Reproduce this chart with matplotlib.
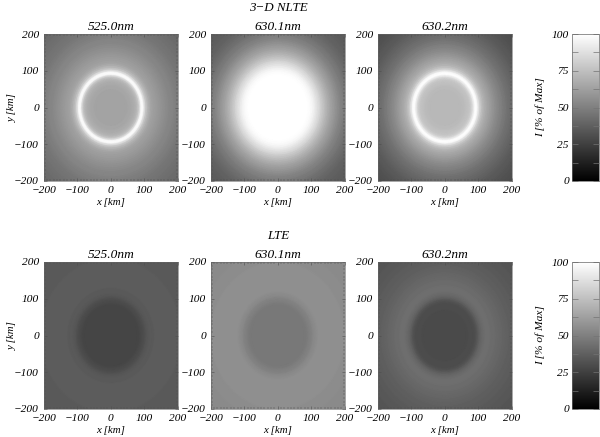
import matplotlib
matplotlib.use('Agg')
import matplotlib.pyplot as plt
import numpy as np

plt.rcParams['font.family'] = ['Liberation Serif', 'DejaVu Serif']
plt.rcParams['font.style'] = 'italic'

lines = ['525.0nm', '630.1nm', '630.2nm']
tick_values = [-200, -100, 0, 100, 200]
bar_ticks = [0, 25, 50, 75, 100]

# intensity in % of max, read along the radius, one value every 5 km (0 to 285 km)
nlte_525 = [64, 64, 64, 64, 64, 64, 64, 64, 64, 64, 65, 65, 66, 67, 68, 70, 74, 82, 97, 100,
            88, 78, 72, 68, 65, 63, 62, 61, 60, 59, 58, 57, 56, 55, 54, 53, 52, 52, 51, 50,
            49, 49, 48, 47, 46, 46, 45, 45, 44, 44, 43, 43, 42, 42, 42, 41, 41, 41]
nlte_6301 = [100, 100, 100, 100, 100, 100, 100, 100, 100, 100, 100, 100, 100, 100, 100, 100, 100, 100, 100, 99,
             98, 96, 93, 90, 87, 84, 80, 77, 74, 71, 68, 66, 63, 61, 59, 57, 55, 53, 51, 50,
             48, 47, 46, 44, 43, 42, 41, 40, 39, 38, 38, 37, 37, 36, 36, 36, 36, 36]
nlte_6302 = [72, 72, 72, 72, 72, 72, 72, 72, 72, 72, 73, 73, 74, 75, 76, 78, 82, 90, 99, 100,
             90, 81, 75, 71, 68, 66, 64, 62, 60, 58, 56, 54, 53, 51, 50, 48, 47, 45, 44, 43,
             42, 41, 40, 39, 38, 37, 36, 35, 35, 34, 33, 33, 32, 32, 31, 31, 30, 30]
lte_525 = [27, 27, 27, 27, 27, 27, 27, 27, 27, 27, 27, 27, 27, 27, 27, 27, 27, 28, 29, 30,
           31, 33, 34, 35, 35, 35, 36, 36, 36, 36, 36, 36, 36, 36, 36, 36, 36, 36, 36, 36,
           36, 36, 36, 35, 35, 35, 35, 35, 35, 35, 35, 35, 35, 35, 35, 35, 35, 35]
lte_6301 = [47, 47, 47, 47, 47, 47, 47, 47, 47, 47, 47, 47, 47, 47, 47, 47, 47, 48, 49, 50,
            51, 53, 54, 55, 56, 56, 56, 56, 56, 56, 56, 56, 56, 56, 56, 56, 56, 56, 56, 56,
            56, 55, 55, 55, 55, 55, 55, 55, 54, 54, 54, 54, 54, 54, 54, 54, 54, 54]
lte_6302 = [29, 29, 29, 29, 29, 29, 29, 29, 29, 29, 29, 29, 29, 29, 30, 30, 30, 30, 31, 33,
            36, 39, 41, 42, 43, 43, 43, 43, 42, 42, 42, 41, 41, 40, 40, 39, 39, 38, 38, 37,
            37, 37, 36, 36, 36, 35, 35, 35, 34, 34, 34, 34, 33, 33, 33, 33, 33, 33]

rows = [('3\u2212D NLTE', [nlte_525, nlte_6301, nlte_6302], 34, 181, 8),
        ('LTE', [lte_525, lte_6301, lte_6302], 262, 409, 236)]
lefts = [43.7, 210.7, 377.7]
W, H = 600.0, 437.0


def make_ax(x0, x1, top, bottom):
    return fig.add_axes([x0 / W, 1 - bottom / H, (x1 - x0) / W, (bottom - top) / H])


fig = plt.figure(figsize=(6, 4.37), dpi=100)

# polar mesh, the profile is the colour along each spoke
radii = np.arange(58) * 5.0
theta = np.linspace(0, 2 * np.pi, 241)
rr, tt = np.meshgrid(radii, theta)
xx = rr * np.cos(tt)
yy = rr * np.sin(tt)

for head, profiles, top, bottom, head_y in rows:
    fig.text(278 / W, 1 - head_y / H, head, ha='center', va='center', fontsize=9.4)
    for i, prof in enumerate(profiles):
        ax = make_ax(lefts[i], lefts[i] + 134, top, bottom)
        cc = np.tile(np.array(prof, dtype=float), (len(theta), 1))
        im = ax.pcolormesh(xx, yy, cc, cmap='gray', vmin=0, vmax=100, shading='gouraud',
                           rasterized=True)
        ax.set_xlim(-200, 200)
        ax.set_ylim(-200, 200)
        ax.set_xticks(tick_values)
        ax.set_yticks(tick_values)
        ax.set_xticks(np.arange(-200, 201, 10), minor=True)
        ax.set_yticks(np.arange(-200, 201, 10), minor=True)
        ax.tick_params(which='major', direction='in', top=True, right=True, length=2.5,
                       width=0.4, color='0.3', labelsize=8.2, pad=3.5)
        ax.tick_params(which='minor', direction='in', top=True, right=True, length=1.3,
                       width=0.35, color='0.3')
        for s in ax.spines.values():
            s.set_linewidth(0.4)
            s.set_color('0.4')
        ax.set_xlabel('x [km]', fontsize=7.8, labelpad=2)
        if i == 0:
            ax.set_ylabel('y [km]', fontsize=7.8, labelpad=-2)
        ax.set_title(lines[i], fontsize=9.6, pad=3)

    cax = make_ax(571.7, 599, top, bottom)
    cb = fig.colorbar(im, cax=cax)
    cb.set_ticks(bar_ticks)
    cb.set_ticklabels([str(v) for v in bar_ticks])
    cax.yaxis.set_ticks_position('both')
    cax.set_yticks([12.5, 37.5, 62.5, 87.5], minor=True)
    cax.tick_params(which='major', direction='in', left=True, right=True, labelleft=True,
                    labelright=False, length=4, width=0.5, color='0.45', labelsize=8.2, pad=2)
    cax.tick_params(which='minor', direction='in', left=True, right=True, length=4,
                    width=0.5, color='0.45')
    cb.outline.set_linewidth(0.5)
    cb.outline.set_edgecolor('0.4')
    fig.text(540 / W, 1 - (top + bottom) / 2 / H, 'I [% of Max]', rotation=90,
             ha='center', va='center', fontsize=8.2)

fig.savefig('out.png', dpi=100)
